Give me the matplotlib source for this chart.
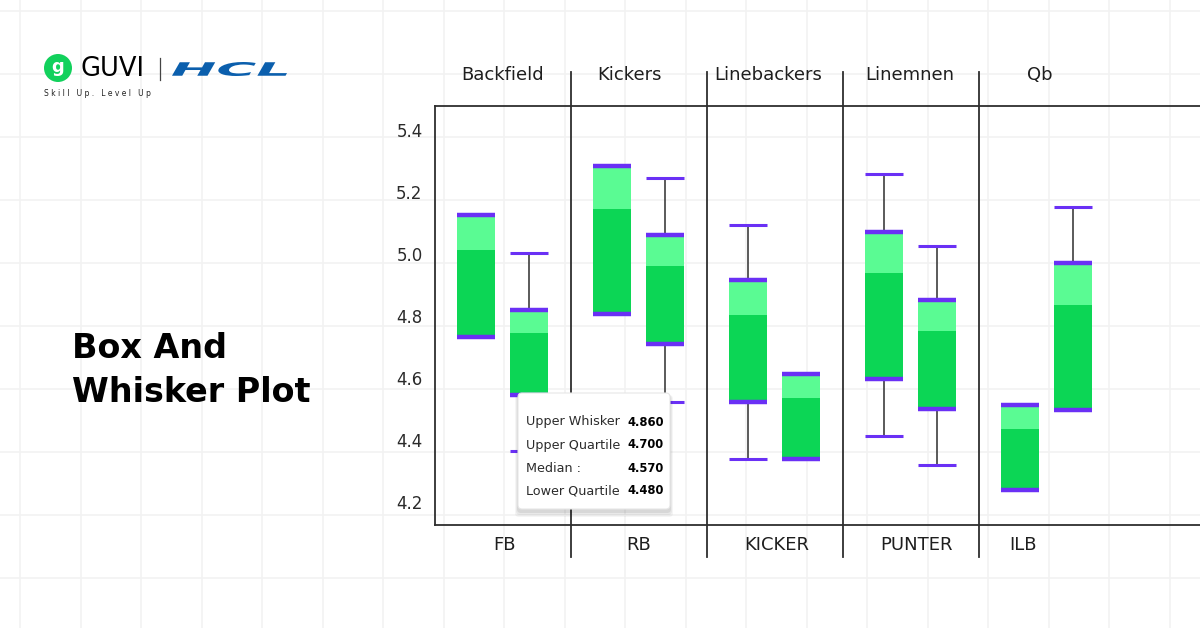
import matplotlib
matplotlib.use("Agg")
import matplotlib.pyplot as plt
import numpy as np
from matplotlib.patches import Circle, FancyBboxPatch, PathPatch, Rectangle
from matplotlib.textpath import TextPath
from matplotlib.font_manager import FontProperties
from matplotlib.transforms import Affine2D

# --- data ---
groups_top = ["Backfield", "Kickers", "Linebackers", "Linemnen", "Qb"]
groups_bottom = ["FB", "RB", "KICKER", "PUNTER", "ILB"]

whisker_high = [5.126, 5.003, 5.284, 5.245, 5.094, 4.613, 5.258, 5.026, 4.513, 5.152]
upper_q = [5.126, 4.819, 5.284, 5.061, 4.916, 4.613, 5.071, 4.852, 4.513, 4.971]
median = [5.013, 4.745, 5.145, 4.961, 4.803, 4.535, 4.939, 4.752, 4.435, 4.835]
lower_q = [4.732, 4.545, 4.806, 4.710, 4.523, 4.339, 4.597, 4.500, 4.239, 4.497]
whisker_low = [4.732, 4.365, 4.806, 4.523, 4.339, 4.339, 4.413, 4.319, 4.239, 4.497]

y_ticks = [4.2, 4.4, 4.6, 4.8, 5.0, 5.2, 5.4]

tip_labels = ["Upper Whisker", "Upper Quartile", "Median :", "Lower Quartile"]
tip_values = ["4.860", "4.700", "4.570", "4.480"]

# --- layout / style ---
W, H = 1200, 628
DARK_GREEN = "#0cd655"
LIGHT_GREEN = "#5afb93"
PURPLE = "#6a30f5"
LINE = "#2e2e2e"
FONT = "DejaVu Sans"

# small nudges so the group labels sit where the reference puts them
top_nudge = [0.0, -0.07, -0.05, -0.01, -0.05]
bottom_nudge = [0.01, 0.0, 0.01, 0.04, -0.18]
box_offsets = [0.30, 0.69]
box_w = 0.28

fig = plt.figure(figsize=(W / 100, H / 100), dpi=100)
fig.patch.set_facecolor("white")

# faint background grid
bg = fig.add_axes([0, 0, 1, 1], zorder=0)
bg.set_xlim(0, W)
bg.set_ylim(H, 0)
bg.axis("off")
for yy in np.arange(11, H, 63):
    bg.axhline(yy, color="#f2f2f2", lw=1.2)
for xx in np.arange(20, W, 60.5):
    bg.axvline(xx, color="#f2f2f2", lw=1.2)

# main chart
ax = fig.add_axes([435 / W, 1 - 525 / H, 765 / W, 419 / H], zorder=1)
ax.patch.set_alpha(0)
ax.set_xlim(0, 765 / 136)
ax.set_ylim(4.1258, 5.4774)

ax.spines["right"].set_visible(False)
for s in ["left", "top", "bottom"]:
    ax.spines[s].set_color(LINE)
    ax.spines[s].set_linewidth(1.3)

ax.set_xticks([])
ax.set_yticks(y_ticks)
ax.set_yticklabels([f"{v:.1f}" for v in y_ticks], fontsize=12, color="#2b2b2b", family=FONT)
ax.tick_params(axis="y", length=0, pad=9)

n_groups = len(groups_top)
for i in range(1, n_groups):
    ax.axvline(i, ymin=-0.076, ymax=1.081, color=LINE, lw=1.3, clip_on=False)

for i, (t, b) in enumerate(zip(groups_top, groups_bottom)):
    ax.text(i + 0.5 + top_nudge[i], 1.074, t, transform=ax.get_xaxis_transform(),
            ha="center", va="center", fontsize=13, color="#1e1e1e", family=FONT)
    ax.text(i + 0.5 + bottom_nudge[i], -0.048, b, transform=ax.get_xaxis_transform(),
            ha="center", va="center", fontsize=13, color="#1e1e1e", family=FONT)

for k in range(len(median)):
    g, j = divmod(k, 2)
    xc = g + box_offsets[j]
    x0 = xc - box_w / 2
    if whisker_high[k] > upper_q[k]:
        ax.plot([xc, xc], [upper_q[k], whisker_high[k]], color=LINE, lw=1.1, zorder=2)
        ax.hlines(whisker_high[k], x0, x0 + box_w, color=PURPLE, lw=2.2, zorder=4)
    if whisker_low[k] < lower_q[k]:
        ax.plot([xc, xc], [whisker_low[k], lower_q[k]], color=LINE, lw=1.1, zorder=2)
        ax.hlines(whisker_low[k], x0, x0 + box_w, color=PURPLE, lw=2.2, zorder=4)
    ax.add_patch(Rectangle((x0, lower_q[k]), box_w, median[k] - lower_q[k],
                           facecolor=DARK_GREEN, edgecolor="none", zorder=3))
    ax.add_patch(Rectangle((x0, median[k]), box_w, upper_q[k] - median[k],
                           facecolor=LIGHT_GREEN, edgecolor="none", zorder=3))
    ax.hlines([lower_q[k], upper_q[k]], x0, x0 + box_w, color=PURPLE, lw=3.2, zorder=4)

# overlay: logo, title, tooltip (pixel coordinates)
ov = fig.add_axes([0, 0, 1, 1], zorder=5)
ov.set_xlim(0, W)
ov.set_ylim(H, 0)
ov.axis("off")

# tooltip
for d, a in [(6, 0.04), (4, 0.05), (2, 0.07)]:
    ov.add_patch(FancyBboxPatch((518 - d / 2, 395), 152 + d, 116 + d,
                                boxstyle="round,pad=0,rounding_size=4",
                                facecolor="black", alpha=a, edgecolor="none"))
ov.add_patch(FancyBboxPatch((518, 393), 152, 116, boxstyle="round,pad=0,rounding_size=4",
                            facecolor="white", edgecolor="#e6e6e6", lw=0.8))
for r, (lab, val) in enumerate(zip(tip_labels, tip_values)):
    yy = 422 + r * 23
    ov.text(526, yy, lab, ha="left", va="center", fontsize=9.2, color="#2b2b2b", family=FONT)
    ov.text(664, yy, val, ha="right", va="center", fontsize=8.3, color="black",
            fontweight="bold", family=FONT)

# title
ov.text(72, 348, "Box And", ha="left", va="center", fontsize=24, fontweight="bold",
        color="black", family=FONT)
ov.text(72, 393, "Whisker Plot", ha="left", va="center", fontsize=24, fontweight="bold",
        color="black", family=FONT)

# logo
ov.add_patch(Circle((58, 68), 14, facecolor="#12d15c", edgecolor="none"))
ov.text(58, 67, "g", ha="center", va="center", fontsize=13, fontweight="bold",
        color="white", family=FONT)
ov.text(80, 69, "GUVI", ha="left", va="center", fontsize=18.5, color="black", family=FONT)
ov.plot([160, 160], [58, 80], color="#444444", lw=0.9)
ov.text(44, 94, "S k i l l   U p .   L e v e l   U p", ha="left", va="center",
        fontsize=5.5, color="#222222", family=FONT)

tp = TextPath((0, 0), "HCL", size=20, prop=FontProperties(family=FONT, weight="bold", style="italic"))
ext = tp.get_extents()
sx = 115 / ext.width
sy = 14 / ext.height
tr = Affine2D().translate(-ext.x0, -ext.y0).scale(sx, -sy).translate(172, 76)
ov.add_patch(PathPatch(tr.transform_path(tp), facecolor="#0b5fad", edgecolor="none"))

fig.savefig("out.png", dpi=100, facecolor="white")
